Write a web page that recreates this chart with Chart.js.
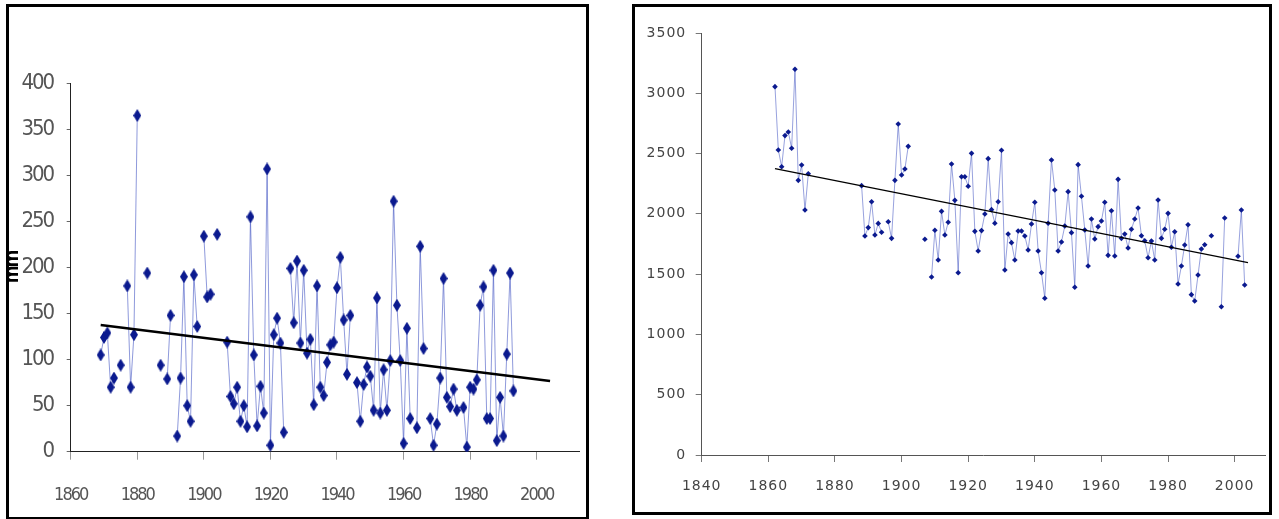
<!DOCTYPE html>
<html><head><meta charset="utf-8">
<script src="https://cdn.jsdelivr.net/npm/chart.js@4/dist/chart.umd.min.js"></script>
<style>
html,body{margin:0;padding:0;background:#fff}
body{width:1279px;height:519px;overflow:hidden;position:relative}
.box{position:absolute;border:3px solid #000;box-sizing:border-box;background:#fff}
#b1{left:6px;top:4px;width:583px;height:516px}
#b2{left:632px;top:4px;width:640px;height:511px}
canvas{position:absolute;left:0;top:0}
</style></head>
<body>
<div class="box" id="b1"><canvas id="c1" width="577" height="510"></canvas></div>
<div class="box" id="b2"><canvas id="c2" width="634" height="505"></canvas></div>
<script>
// ---- Left chart data (mm) ----
const leftYears = [1869,1870,1871,1872,1873,1874,1875,1876,1877,1878,1879,1880,1881,1883,1884,1887,1888,1889,1890,1891,1892,1893,1894,1895,1896,1897,1898,1899,1900,1901,1902,1903,1904,1905,1907,1908,1909,1910,1911,1912,1913,1914,1915,1916,1917,1918,1919,1920,1921,1922,1923,1924,1925,1926,1927,1928,1929,1930,1931,1932,1933,1934,1935,1936,1937,1938,1939,1940,1941,1942,1943,1944,1945,1946,1947,1948,1949,1950,1951,1952,1953,1954,1955,1956,1957,1958,1959,1960,1961,1962,1963,1964,1965,1966,1967,1968,1969,1970,1971,1972,1973,1974,1975,1976,1977,1978,1979,1980,1981,1982,1983,1984,1985,1986,1987,1988,1989,1990,1991,1992,1993];
const leftRain = [105,124,129,70,80,null,94,null,180,70,127,365,null,194,null,94,null,79,148,null,17,80,190,50,33,192,136,null,234,168,171,null,236,null,119,60,52,70,33,50,27,255,105,28,71,42,307,7,127,145,118,21,null,199,140,207,118,197,107,122,51,180,70,61,97,116,119,178,211,143,84,148,null,75,33,73,92,82,45,167,42,89,45,99,272,159,99,9,134,36,null,26,223,112,null,36,7,30,80,188,59,49,68,45,null,48,5,70,68,78,159,179,36,36,197,12,59,17,106,194,66];
const leftTrendYears = [1869, 2004];
const leftTrendRain = [137.5, 76.7];
const leftXTicks = [1860,1880,1900,1920,1940,1960,1980,2000];
const leftYTicks = [0,50,100,150,200,250,300,350,400];

// ---- Right chart data ----
const rightYears = [1862,1863,1864,1865,1866,1867,1868,1869,1870,1871,1872,1873,1888,1889,1890,1891,1892,1893,1894,1895,1896,1897,1898,1899,1900,1901,1902,1903,1907,1908,1909,1910,1911,1912,1913,1914,1915,1916,1917,1918,1919,1920,1921,1922,1923,1924,1925,1926,1927,1928,1929,1930,1931,1932,1933,1934,1935,1936,1937,1938,1939,1940,1941,1942,1943,1944,1945,1946,1947,1948,1949,1950,1951,1952,1953,1954,1955,1956,1957,1958,1959,1960,1961,1962,1963,1964,1965,1966,1967,1968,1969,1970,1971,1972,1973,1974,1975,1976,1977,1978,1979,1980,1981,1982,1983,1984,1985,1986,1987,1988,1989,1990,1991,1992,1993,1994,1996,1997,1998,2001,2002,2003];
const rightRain = [3055,2530,2391,2649,2679,2544,3199,2278,2405,2032,2333,null,2234,1816,1886,2101,1825,1921,1847,null,1935,1797,2278,2745,2322,2372,2560,null,1789,null,1476,1864,1617,2021,1825,1930,2414,2112,1512,2308,2308,2229,2502,1855,1692,1861,1999,2458,2035,1922,2101,2527,1534,1833,1761,1617,1858,1858,1816,1700,1916,2096,1692,1512,1300,1922,2447,2198,1692,1767,1899,2184,1844,1391,2408,2146,1866,1568,1957,1791,1894,1941,2096,1656,2026,1650,2286,1797,1833,1717,1872,1957,2049,1819,1777,1636,1775,1617,2115,1797,1872,2004,1723,1852,1418,1568,1742,1910,1330,1277,1493,1709,1744,null,1819,null,1230,1966,null,1648,2032,1410];
const rightTrendYears = [1862, 2004];
const rightTrendRain = [2376, 1595];
const rightXTicks = [1840,1860,1880,1900,1920,1940,1960,1980,2000];
const rightYTicks = [0,500,1000,1500,2000,2500,3000,3500];

function pts(xs, ys){ return xs.map((x,i)=>({x:x, y:ys[i]})); }
function tallDiamond(w,h,color){
  const c=document.createElement('canvas'); c.width=w; c.height=h;
  const g=c.getContext('2d'); g.fillStyle=color; g.beginPath();
  g.moveTo(w/2,0); g.lineTo(w,h/2); g.lineTo(w/2,h); g.lineTo(0,h/2); g.closePath(); g.fill();
  return c;
}
const setTicks = arr => s => { s.ticks = arr.map(v=>({value:v})); };
const plain = v => String(v);

const narrow = "'Liberation Sans Narrow','DejaVu Sans Condensed','Arial Narrow',sans-serif";

new Chart(document.getElementById('c1'), {
  type:'line',
  data:{datasets:[
    {data:pts(leftTrendYears,leftTrendRain), borderColor:'#000', borderWidth:2.5, pointRadius:0, order:0},
    {data:pts(leftYears,leftRain), borderColor:'rgba(50,70,190,0.55)', borderWidth:1, pointStyle:tallDiamond(8,13,'#0b1a8f'), pointRadius:6, spanGaps:false, tension:0, order:1}
  ]},
  options:{
    responsive:false, animation:false, events:[],
    plugins:{legend:{display:false}, tooltip:{enabled:false}},
    layout:{padding:{top:76.3,left:0,right:0,bottom:0}},
    scales:{
      x:{type:'linear', min:1860, max:2012.7, afterBuildTicks:setTicks(leftXTicks), afterFit:s=>{s.height=65.3;},
        grid:{drawOnChartArea:false, drawTicks:true, tickLength:8, color:'#999'}, border:{color:'#222', width:1},
        ticks:{font:{family:narrow, size:18}, color:'#555', padding:25, maxRotation:0, autoSkip:false, callback:plain}},
      y:{type:'linear', min:0, max:400, afterBuildTicks:setTicks(leftYTicks), afterFit:s=>{s.width=61.7;},
        grid:{drawOnChartArea:false, drawTicks:true, tickLength:4, color:'#666'}, border:{color:'#222', width:1},
        ticks:{font:{family:narrow, size:22}, color:'#555', padding:13.5, autoSkip:false, callback:plain},
        title:{display:true, text:'mm', color:'#000', font:{family:"'Liberation Sans',sans-serif", size:20, weight:'bold'}, padding:{top:-9,bottom:0}}}
    }
  },
  plugins:[{id:'tight', beforeDraw(c){ c.ctx.letterSpacing='-2px'; }}]
});

new Chart(document.getElementById('c2'), {
  type:'line',
  data:{datasets:[
    {data:pts(rightTrendYears,rightTrendRain), borderColor:'#000', borderWidth:1.3, pointRadius:0, order:0},
    {data:pts(rightYears,rightRain), borderColor:'rgba(50,70,190,0.5)', borderWidth:1, pointStyle:'rectRot', pointRadius:2.8, pointBackgroundColor:'#0b1a8f', pointBorderWidth:0, spanGaps:false, tension:0, order:1}
  ]},
  options:{
    responsive:false, animation:false, events:[],
    plugins:{legend:{display:false}, tooltip:{enabled:false}},
    layout:{padding:{top:26,left:0,right:0,bottom:0}},
    scales:{
      x:{type:'linear', min:1840, max:2009.1, afterBuildTicks:setTicks(rightXTicks), afterFit:s=>{s.height=57;},
        grid:{drawOnChartArea:false, drawTicks:true, tickLength:7, color:'#777'}, border:{color:'#555', width:1},
        ticks:{font:{family:"'DejaVu Sans',sans-serif", size:14}, color:'#444', padding:16, maxRotation:0, autoSkip:false, callback:plain}},
      y:{type:'linear', min:0, max:3500, afterBuildTicks:setTicks(rightYTicks), afterFit:s=>{s.width=66.7;},
        grid:{drawOnChartArea:false, drawTicks:true, tickLength:6, color:'#777'}, border:{color:'#555', width:1},
        ticks:{font:{family:"'DejaVu Sans',sans-serif", size:14}, color:'#444', padding:9.5, autoSkip:false, callback:plain}}
    }
  },
  plugins:[{id:'spacing', beforeDraw(c){ c.ctx.letterSpacing='1px'; }}]
});
</script>
</body></html>
